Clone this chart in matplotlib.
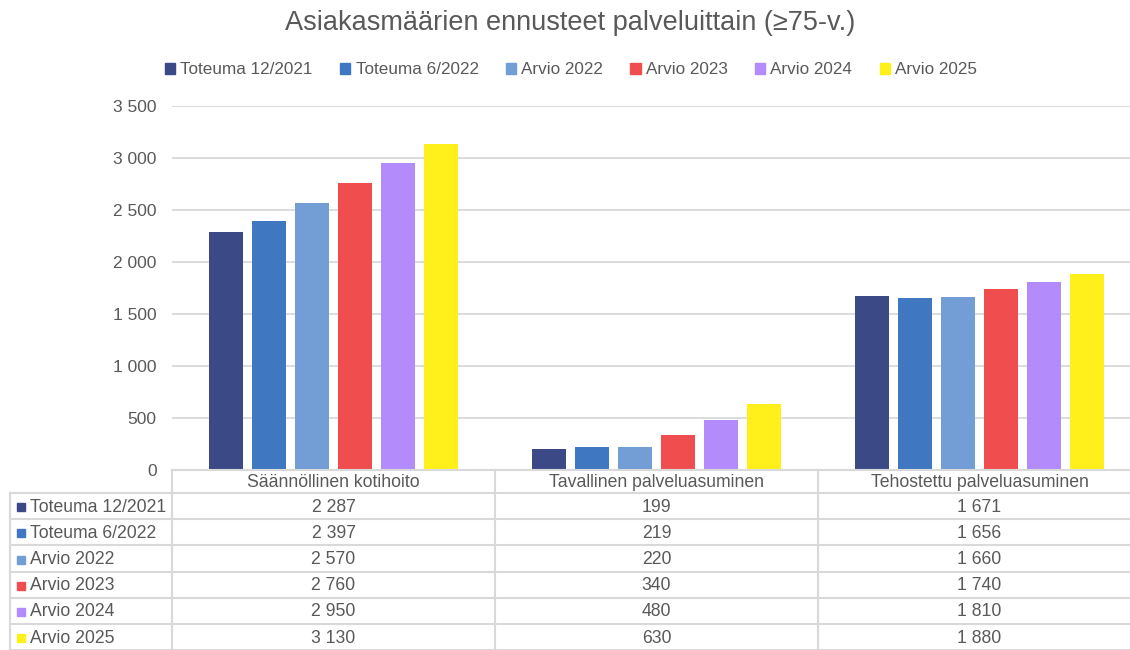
import matplotlib.pyplot as plt
from matplotlib.lines import Line2D
from matplotlib.patches import Rectangle
import numpy as np

plt.rcParams['font.family'] = ['Liberation Sans', 'DejaVu Sans']

TEXT = "#595959"
GRID = "#d9d9d9"

categories = ["Säännöllinen kotihoito", "Tavallinen palveluasuminen", "Tehostettu palveluasuminen"]
series = ["Toteuma 12/2021", "Toteuma 6/2022", "Arvio 2022", "Arvio 2023", "Arvio 2024", "Arvio 2025"]
colors = ["#3b4a87", "#3f78c0", "#729dd5", "#f04e4e", "#b38bfa", "#fff01c"]

toteuma_12_2021 = [2287, 199, 1671]
toteuma_6_2022 = [2397, 219, 1656]
arvio_2022 = [2570, 220, 1660]
arvio_2023 = [2760, 340, 1740]
arvio_2024 = [2950, 480, 1810]
arvio_2025 = [3130, 630, 1880]
values = [toteuma_12_2021, toteuma_6_2022, arvio_2022, arvio_2023, arvio_2024, arvio_2025]

yticks = [0, 500, 1000, 1500, 2000, 2500, 3000, 3500]


def fmt(v):
    return f"{v:,}".replace(",", " ")


W, H = 1130, 650
fig = plt.figure(figsize=(W / 100, H / 100), dpi=100)

# pixel geometry
left, right, top, bottom = 172, 1141, 106, 470
ax = fig.add_axes([left / W, 1 - bottom / H, (right - left) / W, (bottom - top) / H])

x = np.arange(len(categories))
pitch = 43 / 323
width = 34 / 323
for i, (name, vals) in enumerate(zip(series, values)):
    ax.bar(x + (i - 2.5) * pitch, vals, width, color=colors[i], label=name, zorder=3)

ax.set_xlim(-0.5, 2.5)
ax.set_ylim(0, 3500)
ax.set_yticks(yticks)
ax.set_yticklabels([fmt(t) for t in yticks], color=TEXT, fontsize=12.5)
ax.tick_params(axis='y', length=0, pad=11)
ax.set_xticks([])
ax.grid(axis='y', color=GRID, linewidth=1.3, zorder=0)
for s in ax.spines.values():
    s.set_visible(False)

fig.text(570 / W, 1 - 23 / H, "Asiakasmäärien ennusteet palveluittain (≥75-v.)",
         ha='center', va='center', fontsize=19.5, color=TEXT)

handles = [Rectangle((0, 0), 1, 1, color=c) for c in colors]
fig.legend(handles, series, loc='center', bbox_to_anchor=(571 / W, 1 - 70 / H), ncol=6,
           frameon=False, fontsize=12.3, handlelength=0.6, handleheight=0.6,
           handletextpad=0.3, columnspacing=1.6, labelcolor=TEXT)

# data table under the plot
def fx(px):
    return px / W


def fy(py):
    return 1 - py / H


def hline(x0, x1, y):
    fig.add_artist(Line2D([fx(x0), fx(x1)], [fy(y), fy(y)], color=GRID, linewidth=1.5))


def vline(xp, y0, y1):
    fig.add_artist(Line2D([fx(xp), fx(xp)], [fy(y0), fy(y1)], color=GRID, linewidth=1.5))


row_h = 26.2
header_top, header_bot = 470, 493
col_edges = [172, 495, 818, 1141]

hline(172, 1141, header_top)
for r in range(len(series) + 1):
    hline(10, 1141, header_bot + r * row_h)
vline(10, header_bot, 650)
for xe in col_edges:
    vline(xe, header_top, 650)

for j, cat in enumerate(categories):
    cx = (col_edges[j] + col_edges[j + 1]) / 2
    fig.text(fx(cx), fy((header_top + header_bot) / 2 + 1), cat, ha='center', va='center',
             fontsize=12.7, color=TEXT)

for i, name in enumerate(series):
    cy = header_bot + (i + 0.5) * row_h + 1
    fig.add_artist(Rectangle((fx(17), fy(cy + 4)), 8 / W, 8 / H, color=colors[i],
                             transform=fig.transFigure))
    fig.text(fx(30), fy(cy), name, ha='left', va='center', fontsize=12.7, color=TEXT)
    for j in range(len(categories)):
        cx = (col_edges[j] + col_edges[j + 1]) / 2
        fig.text(fx(cx), fy(cy), fmt(values[i][j]), ha='center', va='center',
                 fontsize=12.7, color=TEXT)

fig.savefig("out.png", dpi=100)
